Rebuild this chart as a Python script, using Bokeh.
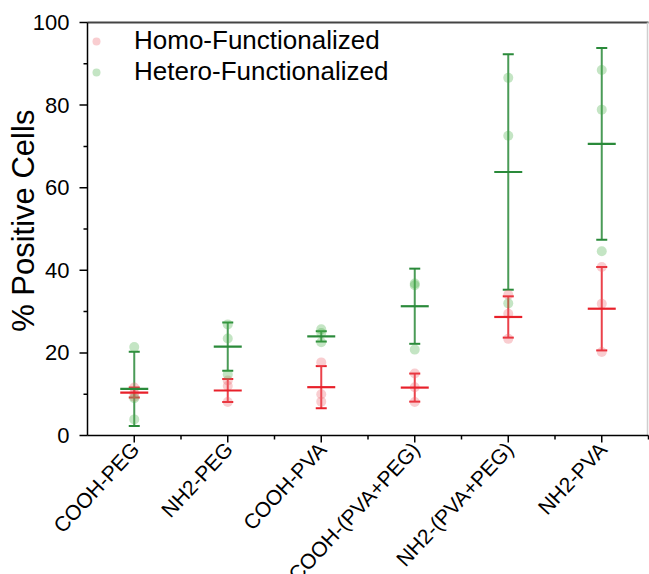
import math
from bokeh.plotting import figure
from bokeh.models import Range1d, ColumnDataSource, Whisker, TeeHead
from bokeh.core.properties import value
from bokeh.embed import file_html
from bokeh.resources import INLINE

categories = ["COOH-PEG", "NH2-PEG", "COOH-PVA", "COOH-(PVA+PEG)", "NH2-(PVA+PEG)", "NH2-PVA"]

homo_mean = [10.4, 10.9, 11.7, 11.6, 28.7, 30.7]
homo_err = [1.2, 2.8, 5.1, 3.4, 5.0, 10.1]
homo_pts = [
    [11.6, 10.3, 9.4],
    [13.3, 12.0, 8.1],
    [17.7, 10.0, 8.2],
    [15.0, 11.7, 8.1],
    [34.1, 29.5, 23.4],
    [40.8, 31.9, 20.2],
]

hetero_mean = [11.3, 21.5, 24.0, 31.3, 63.8, 70.6]
hetero_err = [9.0, 5.85, 1.25, 9.1, 28.5, 23.2]
hetero_pts = [
    [21.4, 9.0, 3.9],
    [26.9, 23.5, 14.8],
    [25.7, 24.8, 22.6],
    [36.8, 36.4, 20.8],
    [86.6, 72.6, 32.0],
    [88.5, 78.9, 44.6],
]

y_ticks = [0, 20, 40, 60, 80, 100]
y_minor = [10, 30, 50, 70, 90]
Y_MIN, Y_MAX = 0, 100

RED = "#e8202a"
GREEN = "#2a8a3a"
FONT = "Liberation Sans"

# pixel layout of the axes box inside the 649x574 canvas
W, H = 649, 574
LEFT, RIGHT, TOP, AXIS_Y = 87, 648, 22, 435
n = len(categories)
xs = list(range(1, n + 1))
X0, X1 = 0.5, n + 0.5
PXX = (RIGHT - LEFT) / (X1 - X0)
PXY = (AXIS_Y - TOP) / (Y_MAX - Y_MIN)

# the frame covers the whole canvas so that the rotated labels are not clipped
p = figure(width=W, height=H, output_backend="svg", toolbar_location=None,
           x_range=Range1d(X0 - LEFT / PXX, X0 + (W - LEFT) / PXX),
           y_range=Range1d(Y_MIN - (H - AXIS_Y) / PXY, Y_MAX + TOP / PXY),
           min_border=0, min_border_left=0, min_border_right=0,
           min_border_top=0, min_border_bottom=0)
p.xgrid.visible = False
p.ygrid.visible = False
p.axis.visible = False
p.outline_line_color = None
p.background_fill_color = "white"
p.border_fill_color = "white"

def flat(pts):
    px, py = [], []
    for i, vals in enumerate(pts):
        for v in vals:
            px.append(xs[i])
            py.append(v)
    return px, py

hx, hy = flat(homo_pts)
gx, gy = flat(hetero_pts)
p.scatter(hx, hy, size=10, color="#ee6670", alpha=0.33, line_alpha=0.0, legend_label="Homo-Functionalized")
p.scatter(gx, gy, size=10, color="#4cb04c", alpha=0.33, line_alpha=0.0, legend_label="Hetero-Functionalized")

def add_err(mean, err, color):
    src = ColumnDataSource(dict(x=xs, up=[m + e for m, e in zip(mean, err)],
                                lo=[m - e for m, e in zip(mean, err)], m=mean))
    w = Whisker(source=src, base="x", upper="up", lower="lo", dimension="height",
                line_color=color, line_width=2, line_alpha=0.85,
                upper_head=TeeHead(size=11, line_color=color, line_width=2),
                lower_head=TeeHead(size=11, line_color=color, line_width=2))
    p.add_layout(w)
    p.scatter("x", "m", source=src, marker="dash", size=28, line_color=color, line_width=2.2)

add_err(hetero_mean, hetero_err, GREEN)
add_err(homo_mean, homo_err, RED)

# box lines: top (dark), right (light gray), bottom x axis, left y axis
p.segment(x0=[X0], y0=[Y_MAX], x1=[X1], y1=[Y_MAX], line_color="#444444", line_width=2)
p.segment(x0=[X1 - 1 / PXX], y0=[Y_MIN], x1=[X1 - 1 / PXX], y1=[Y_MAX], line_color="#cfcfcf", line_width=1.5)
p.segment(x0=[X0], y0=[Y_MIN], x1=[X1], y1=[Y_MIN], line_color="black", line_width=1.5)
p.segment(x0=[X0], y0=[Y_MIN], x1=[X0], y1=[Y_MAX], line_color="black", line_width=1.5)

# x ticks (outward) and rotated category labels
minor_x = [x + 0.5 for x in xs]
p.segment(x0=xs, y0=[Y_MIN] * n, x1=xs, y1=[Y_MIN - 7 / PXY] * n, line_color="black", line_width=1.5)
p.segment(x0=minor_x, y0=[Y_MIN] * n, x1=minor_x, y1=[Y_MIN - 4 / PXY] * n, line_color="black", line_width=1.5)
p.text(x=xs, y=[Y_MIN - 10 / PXY] * n, text=categories, angle=0.82,
       text_align="right", text_baseline="middle", x_offset=1,
       text_font=value(FONT), text_font_size="21px", text_color="black")

# y ticks (outward), tick labels and axis title
p.segment(x0=[X0] * len(y_ticks), y0=y_ticks, x1=[X0 - 8 / PXX] * len(y_ticks), y1=y_ticks,
          line_color="black", line_width=1.5)
p.segment(x0=[X0] * len(y_minor), y0=y_minor, x1=[X0 - 4 / PXX] * len(y_minor), y1=y_minor,
          line_color="black", line_width=1.5)
p.text(x=[X0 - 18 / PXX] * len(y_ticks), y=y_ticks, text=[str(t) for t in y_ticks],
       text_align="right", text_baseline="middle",
       text_font=value(FONT), text_font_size="22px", text_color="black")
p.text(x=[X0 - (LEFT - 23) / PXX], y=[Y_MIN + 0.52 * (Y_MAX - Y_MIN)], text=["% Positive Cells"],
       angle=math.pi / 2, text_align="center", text_baseline="middle",
       text_font=value(FONT), text_font_size="31px", text_color="black")

lg = p.legend[0]
lg.location = (86, H - 24 - 70 + 7)
lg.border_line_color = None
lg.background_fill_alpha = 0
lg.margin = 0
lg.padding = 5
lg.spacing = 0
lg.glyph_width = 20
lg.glyph_height = 30
lg.label_height = 30
lg.label_standoff = 28
lg.label_text_font = FONT
lg.label_text_font_size = "26px"
lg.label_text_color = "black"

open("out.html", "w").write(file_html(p, INLINE))
